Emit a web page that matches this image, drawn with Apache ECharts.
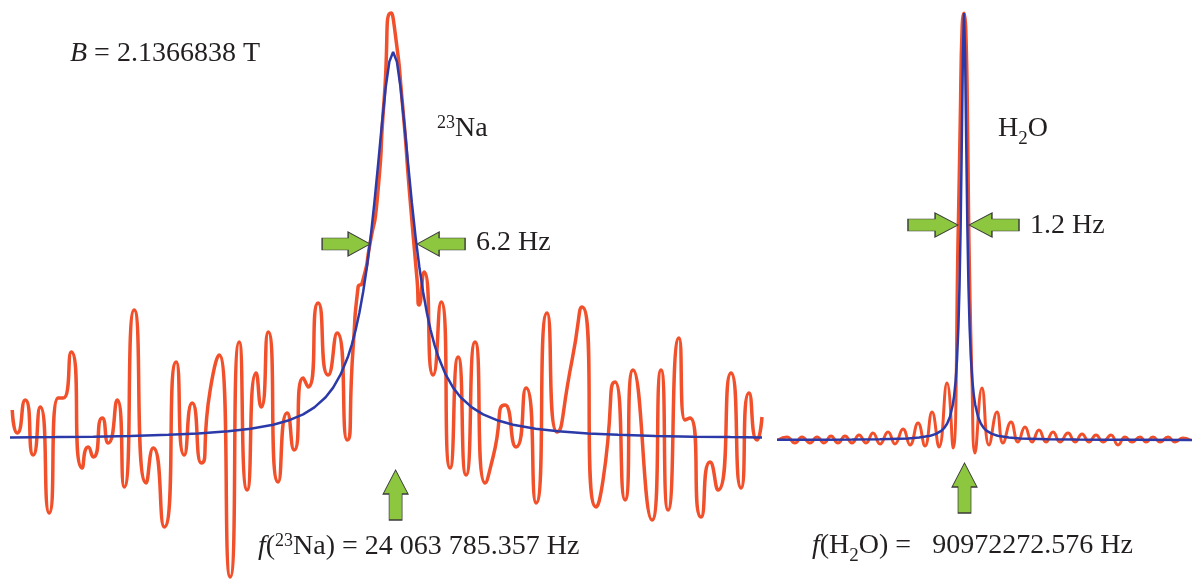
<!DOCTYPE html>
<html><head><meta charset="utf-8">
<script src="https://cdn.jsdelivr.net/npm/echarts@6/dist/echarts.min.js"></script>
<style>html,body{margin:0;padding:0;background:#fff}#c{width:1194px;height:579px}</style>
</head><body><div id="c"></div>
<script>
// 23Na spectrum: frequency offset from line centre (Hz) and signal (arb. units)
const naHz = [-50.8,-50.13,-49.07,-48.0,-47.07,-45.87,-44.67,-44.0,-42.93,-41.47,-40.67,-40.0,-38.8,-38.0,-36.8,-35.87,-34.53,-32.93,-32.0,-30.53,-28.93,-27.87,-26.8,-25.6,-24.4,-23.2,-21.73,-20.53,-19.47,-18.27,-17.6,-16.67,-15.33,-14.13,-13.2,-12.0,-11.33,-10.0,-8.67,-7.47,-6.13,-5.33,-4.67,-4.13,-3.07,-2.13,-1.2,-0.27,0.27,1.2,2.27,3.2,3.47,4.13,5.33,6.4,7.6,8.67,9.73,10.93,12.27,13.33,14.93,16.4,17.73,19.07,20.53,21.87,23.87,25.2,27.07,28.0,29.6,30.93,32.0,34.53,35.73,36.67,38.13,38.93,39.6,41.07,42.27,43.33,45.07,46.4,47.47,48.53,49.2];
const naSignal = [0.725,0.15,0.975,-0.4,0.8,-1.85,1.025,1.025,2.175,-0.725,-0.2,-0.45,0.525,-0.1,0.975,-1.2,3.225,-1.1,-0.225,-2.2,1.925,-0.4,0.9,-0.6,1.225,2.1,-3.45,2.425,-1.275,1.65,0.8,2.675,-1.075,0.65,-0.275,1.525,1.3,3.4,1.6,2.65,-0.025,2.3,3.8,3.9,4.9,5.975,8.475,10.65,10.15,8.475,5.975,3.975,3.35,4.175,1.6,3.425,-0.725,2.05,-0.9,2.425,-1.1,-0.45,0.85,-0.2,1.275,-1.6,3.15,0.175,1.975,3.3,-1.7,-1.025,1.425,-1.525,1.725,-2.025,1.725,-1.775,2.525,0.475,0.525,-1.95,-0.575,-1.275,1.65,-1.225,1.15,-0.025,0.55];
// 23Na Lorentzian fit (FWHM 6.2 Hz)
const naFitHz = [-51.1,-45,-40,-35,-30,-26,-22,-19,-16,-14,-12,-10.5,-9,-8,-7,-6,-5.5,-5,-4.5,-4,-3.5,-3,-2.5,-2,-1.5,-1,-0.5,0,0.5,1,1.5,2,2.5,3,3.5,4,4.5,5,5.5,6,7,8,9,10.5,12,14,16,19,22,26,30,35,40,45,49.2];
const naFit = [0.036,0.047,0.059,0.077,0.104,0.138,0.192,0.256,0.357,0.461,0.616,0.79,1.044,1.284,1.613,2.07,2.367,2.724,3.155,3.675,4.3,5.042,5.907,6.87,7.868,8.779,9.434,9.675,9.434,8.779,7.868,6.87,5.907,5.042,4.3,3.675,3.155,2.724,2.367,2.07,1.613,1.284,1.044,0.79,0.616,0.461,0.357,0.256,0.192,0.138,0.104,0.077,0.059,0.047,0.039];

// H2O spectrum
const h2oHz = [-33.21,-31.61,-30.18,-28.93,-27.5,-26.25,-25.0,-23.75,-22.5,-21.25,-20.0,-18.75,-17.5,-16.25,-15.0,-13.57,-12.32,-10.89,-9.64,-8.21,-6.96,-5.71,-4.46,-3.04,-1.96,-1.07,-0.71,-0.36,0,0.36,0.71,0.89,1.43,1.96,3.21,4.46,5.89,6.96,8.39,9.64,10.89,12.14,13.39,14.64,15.89,17.14,18.57,19.82,21.07,22.32,23.57,24.82,26.25,27.5,28.75,30.0,31.43,32.5,33.75,35.0,36.43,37.68,39.11,40.36];
const h2oSignal = [0,0.075,-0.075,0.075,-0.075,0.075,-0.075,0.1,-0.075,0.1,-0.075,0.125,-0.075,0.175,-0.1,0.2,-0.1,0.275,-0.125,0.425,-0.15,0.7,-0.175,1.425,-0.2,5.25,8.0,10.375,10.675,10.25,7.5,5.25,1.5,-0.325,1.3,-0.125,0.7,-0.075,0.45,-0.05,0.325,-0.05,0.25,-0.05,0.2,-0.05,0.175,-0.05,0.15,-0.05,0.125,-0.05,0.125,-0.125,0.075,-0.05,0.075,-0.05,0.075,-0.05,0.075,-0.05,0.05,0];
// H2O Lorentzian fit (FWHM 1.2 Hz)
const h2oFitHz = [-33.39,-25,-20,-15,-10,-8,-6,-5,-4,-3.5,-3,-2.5,-2,-1.75,-1.5,-1.25,-1,-0.8,-0.6,-0.4,-0.2,0,0.2,0.4,0.6,0.8,1,1.25,1.5,1.75,2,2.5,3,3.5,4,5,6,8,10,15,20,25,30,40.71];
const h2oFit = [0.0035,0.0062,0.0096,0.017,0.038,0.06,0.106,0.152,0.235,0.305,0.411,0.581,0.882,1.123,1.472,1.999,2.826,3.843,5.338,7.392,9.608,10.675,9.608,7.392,5.338,3.843,2.826,1.999,1.472,1.123,0.882,0.581,0.411,0.305,0.235,0.152,0.106,0.06,0.038,0.017,0.0096,0.0062,0.0043,0.0023];

// annotation arrows: [Hz, signal, direction]
const naArrows = [[-6.27,4.875,'right'],[6.4,4.875,'left'],[0.33,-1.4,'up']];
const h2oArrows = [[-5.54,5.375,'right'],[5.36,5.375,'left'],[0.09,-1.2,'up']];

const pair = (xs, ys) => xs.slice(0, Math.min(xs.length, ys.length)).map((x, i) => [x, ys[i]]);

const RED = '#f1502a', BLUE = '#2b3aa8', GREEN = '#8dc63f';
const ARROW = {
  right: 'path://M0,6L26,6L26,0L48,12L26,24L26,18L0,18Z',
  left: 'path://M48,6L22,6L22,0L0,12L22,24L22,18L48,18Z',
  up: 'path://M6,50L6,24L0,24L12.5,0L25,24L19,24L19,50Z'
};
const arrowMarks = (list, w) => ({
  symbol: 'circle',
  label: {show: false},
  silent: true,
  itemStyle: {color: GREEN, borderColor: '#3b3b3b', borderWidth: 1},
  data: list.map(a => ({coord: [a[0], a[1]], symbol: ARROW[a[2]],
    symbolSize: a[2] === 'up' ? [25, 50] : [w, 24]}))
});

const SERIF = '"Liberation Serif","Times New Roman",serif';
const TXT = '#231f20';
const base = {fontFamily: SERIF, fontSize: 28, fill: TXT, lineHeight: 30, verticalAlign: 'top'};
const RICH = {
  n: Object.assign({}, base),
  i: Object.assign({}, base, {fontStyle: 'italic'}),
  sup: {fontFamily: SERIF, fontSize: 18, fill: TXT, lineHeight: 20, verticalAlign: 'top', padding: [-1, 0, 0, 0]},
  sub: {fontFamily: SERIF, fontSize: 19, fill: TXT, lineHeight: 20, verticalAlign: 'top', padding: [15, 0, 0, 0]}
};
const txt = (x, y, text) => ({
  type: 'text', x: x, y: y, silent: true,
  style: {text: text, fontFamily: SERIF, fontSize: 28, fill: TXT, verticalAlign: 'top', align: 'left', rich: RICH}
});

const hiddenAxis = (extra) => Object.assign({
  type: 'value', show: false, axisLine: {show: false}, axisTick: {show: false},
  axisLabel: {show: false}, splitLine: {show: false}
}, extra);

const chart = echarts.init(document.getElementById('c'), null, {renderer: 'canvas'});
chart.setOption({
  animation: false,
  backgroundColor: '#ffffff',
  grid: [
    {left: 10, top: 0, width: 752, height: 579},
    {left: 777, top: 0, width: 415, height: 579}
  ],
  xAxis: [
    hiddenAxis({gridIndex: 0, min: -51.1, max: 49.2}),
    hiddenAxis({gridIndex: 1, min: -33.39, max: 40.71})
  ],
  yAxis: [
    hiddenAxis({gridIndex: 0, min: -3.5, max: 10.975}),
    hiddenAxis({gridIndex: 1, min: -3.475, max: 11.0})
  ],
  series: [
    {type: 'line', name: '23Na signal', xAxisIndex: 0, yAxisIndex: 0, data: pair(naHz, naSignal),
      smooth: 0.75, showSymbol: false, clip: false,
      lineStyle: {color: RED, width: 3.5}, z: 2},
    {type: 'line', name: '23Na fit', xAxisIndex: 0, yAxisIndex: 0, data: pair(naFitHz, naFit),
      smooth: false, showSymbol: false, clip: false,
      lineStyle: {color: BLUE, width: 2.5}, z: 3, markPoint: arrowMarks(naArrows, 48)},
    {type: 'line', name: 'H2O signal', xAxisIndex: 1, yAxisIndex: 1, data: pair(h2oHz, h2oSignal),
      smooth: 0.5, showSymbol: false, clip: false,
      lineStyle: {color: RED, width: 3}, z: 2},
    {type: 'line', name: 'H2O fit', xAxisIndex: 1, yAxisIndex: 1, data: pair(h2oFitHz, h2oFit),
      smooth: false, showSymbol: false, clip: false,
      lineStyle: {color: BLUE, width: 2.5}, z: 3, markPoint: arrowMarks(h2oArrows, 50)}
  ],
  graphic: [
    txt(70, 40, '{i|B}{n| = 2.1366838 T}'),
    txt(437, 115, '{sup|23}{n|Na}'),
    txt(476, 229, '{n|6.2 Hz}'),
    txt(998, 115, '{n|H}{sub|2}{n|O}'),
    txt(1030, 212, '{n|1.2 Hz}'),
    txt(258, 533, '{i|f}{n|(}{sup|23}{n|Na) = 24\u2005063\u2005785.357 Hz}'),
    txt(812, 532, '{i|f}{n|(H}{sub|2}{n|O) =   90972272.576 Hz}')
  ]
});
</script>
</body></html>
